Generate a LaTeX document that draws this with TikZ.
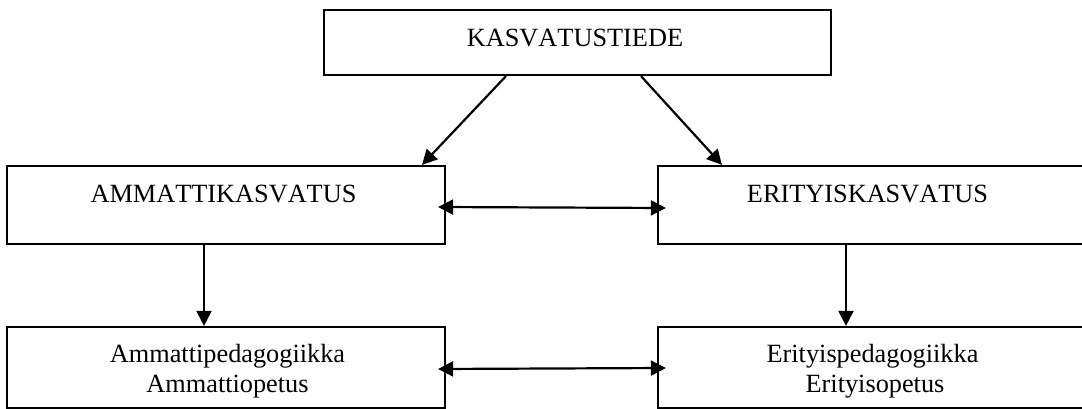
\documentclass[tikz,border=0pt]{standalone}
\usepackage{fontspec}
\setmainfont{Liberation Serif}[Kerning=Off]
\usetikzlibrary{arrows.meta}
\begin{document}
\begin{tikzpicture}[x=1pt,y=-1pt,
  box/.style={draw=black,line width=2.2pt,rectangle,inner sep=0pt},
  lbl/.style={anchor=base,inner sep=0pt,font=\fontsize{26.3}{30}\selectfont},
  arr/.style={line width=2.2pt,-{Triangle[length=15pt,width=15pt]}},
  darr/.style={line width=2.2pt,{Triangle[length=15pt,width=15pt]}-{Triangle[length=15pt,width=15pt]}}]
\useasboundingbox (0,0) rectangle (1082,409);
\begin{scope}
\clip (0,0) rectangle (1082,409);
\node[box,minimum width=507pt,minimum height=65pt] (top) at (577.5,42.5) {};
\node[box,minimum width=438pt,minimum height=78pt] (lmid) at (226,205) {};
\node[box,minimum width=438pt,minimum height=78pt] (rmid) at (877,205) {};
\node[box,minimum width=438pt,minimum height=81pt] (lbot) at (226,367.5) {};
\node[box,minimum width=438pt,minimum height=81pt] (rbot) at (877,367.5) {};
\end{scope}
\node[lbl] (ttop) at (575,47) {KASVATUSTIEDE};
\node[lbl] (tlmid) at (223.5,202) {AMMATTIKASVATUS};
\node[lbl] (trmid) at (867.5,202) {ERITYISKASVATUS};
\node[lbl] (tlbot1) at (227.5,362) {Ammattipedagogiikka};
\node[lbl] (tlbot2) at (227.5,392) {Ammattiopetus};
\node[lbl] (trbot1) at (872.5,362) {Erityispedagogiikka};
\node[lbl] (trbot2) at (875,392) {Erityisopetus};
\draw[arr] ([xshift=-71.5pt]top.south) -- ([xshift=196pt]lmid.north);
\draw[arr] ([xshift=63.5pt]top.south) -- ([xshift=-155pt]rmid.north);
\draw[darr] ([xshift=-8pt,yshift=-2pt]lmid.east) -- ([xshift=9pt,yshift=-3pt]rmid.west);
\draw[arr] ([xshift=-22pt]lmid.south) -- ([xshift=-22pt]lbot.north);
\draw[arr] ([xshift=-31pt]rmid.south) -- ([xshift=-31pt]rbot.north);
\draw[darr] ([xshift=-8pt,yshift=-1.5pt]lbot.east) -- ([xshift=9pt,yshift=-0.5pt]rbot.west);
\end{tikzpicture}
\end{document}
